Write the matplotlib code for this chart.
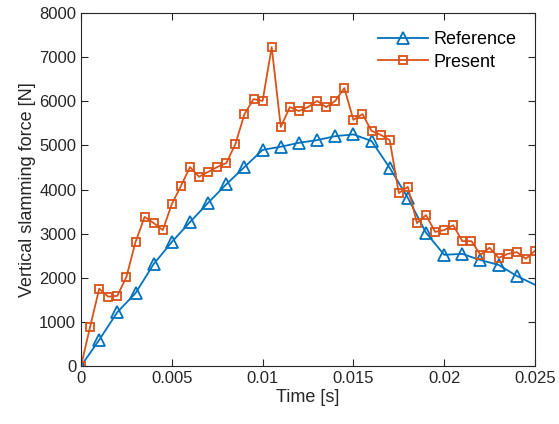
import matplotlib
matplotlib.use("Agg")
import matplotlib.pyplot as plt

plt.rcParams['font.family'] = ['Liberation Sans', 'DejaVu Sans']

ref_t = [0, 0.001, 0.002, 0.003, 0.004, 0.005, 0.006, 0.007, 0.008, 0.009, 0.010,
         0.011, 0.012, 0.013, 0.014, 0.015, 0.016, 0.017, 0.018, 0.019, 0.020,
         0.021, 0.022, 0.023, 0.024, 0.026]
ref_f = [0, 590, 1220, 1650, 2310, 2810, 3260, 3700, 4120, 4510, 4900,
         4970, 5060, 5120, 5210, 5250, 5100, 4490, 3810, 3020, 2520,
         2540, 2400, 2290, 2040, 1640]

pre_t = [i * 0.0005 for i in range(51)]
pre_f = [0, 890, 1750, 1570, 1590, 2020, 2810, 3380, 3240, 3080,
         3670, 4080, 4510, 4290, 4400, 4510, 4600, 5030, 5710, 6050,
         6010, 7230, 5420, 5870, 5780, 5870, 6010, 5870, 6010, 6300,
         5580, 5710, 5330, 5240, 5120, 3920, 4060, 3240, 3420, 3040,
         3080, 3190, 2830, 2830, 2520, 2680, 2450, 2540, 2580, 2430,
         2610]

fig = plt.figure(figsize=(5.59, 4.24), dpi=100)
ax = fig.add_axes([0.145, 0.137, 0.812, 0.832])

ax.plot(ref_t, ref_f, color='#0072BD', lw=1.3, marker='^', ms=8.5,
        mfc='none', mew=1.3, label='Reference')
ax.plot(pre_t, pre_f, color='#D95319', lw=1.3, marker='s', ms=6,
        mfc='none', mew=1.3, label='Present')

ax.set_xlim(0, 0.025)
ax.set_ylim(0, 8000)
ax.set_xticks([0, 0.005, 0.01, 0.015, 0.02, 0.025])
ax.set_xticklabels(['0', '0.005', '0.01', '0.015', '0.02', '0.025'])
ax.set_yticks(range(0, 8001, 1000))
ax.tick_params(direction='in', top=True, right=True, labelsize=12, length=5,
               colors='#262626', labelcolor='#262626')
for s in ax.spines.values():
    s.set_color('#262626')
    s.set_linewidth(0.8)
ax.set_xlabel('Time [s]', fontsize=13, color='#262626', labelpad=2)
ax.set_ylabel('Vertical slamming force [N]', fontsize=13, color='#262626', labelpad=2)
ax.legend(loc='upper right', frameon=False, fontsize=13, handlelength=2.8,
          borderaxespad=0.6, handletextpad=0.3, labelspacing=0.3)

fig.savefig('out.png', dpi=100)
